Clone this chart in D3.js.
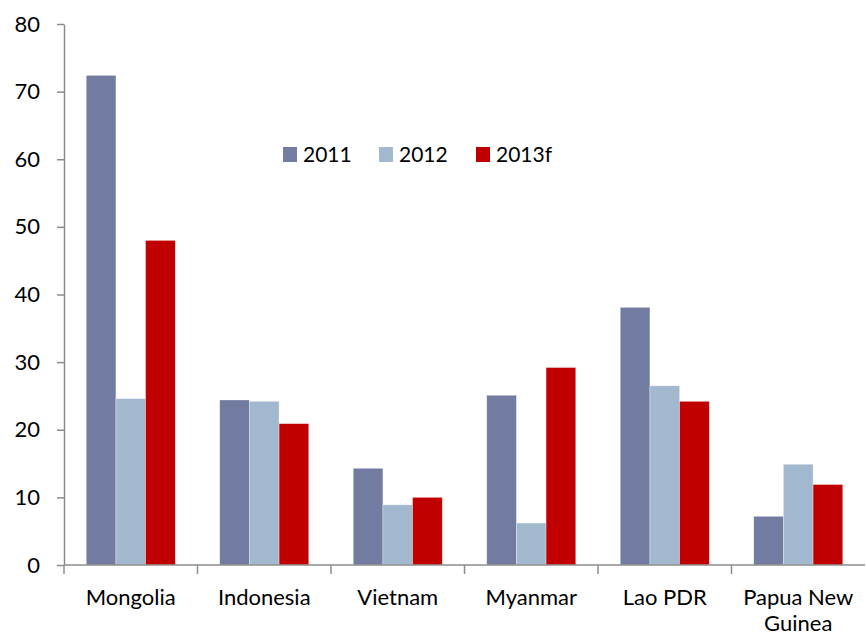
<!DOCTYPE html>
<html>
<head>
<meta charset="utf-8">
<script src="https://cdn.jsdelivr.net/npm/d3@7"></script>
<style>
  body { margin: 0; background: #fff; }
  svg text { font-family: Lato, "Open Sans", sans-serif; fill: #000; }
</style>
</head>
<body>
<div id="chart"></div>
<script>
// data
var countries = ["Mongolia", "Indonesia", "Vietnam", "Myanmar", "Lao PDR", "Papua New Guinea"];
var years = ["2011", "2012", "2013f"];
var v2011 = [72.4, 24.4, 14.3, 25.1, 38.1, 7.2];
var v2012 = [24.6, 24.2, 8.9, 6.2, 26.5, 14.9];
var v2013 = [48.0, 20.9, 10.0, 29.2, 24.2, 11.9];
var yTicks = [0, 10, 20, 30, 40, 50, 60, 70, 80];
var colours = ["#727ca1", "#a2b8cf", "#c00000"];

var series = [v2011, v2012, v2013];

// set the dimensions and margins of the graph
var margin = { top: 24, right: 1, bottom: 73, left: 64 },
  width = 866 - margin.left - margin.right,
  height = 638 - margin.top - margin.bottom;

var svg = d3.select("#chart").append("svg")
  .attr("width", 866)
  .attr("height", 638)
  .append("g")
  .attr("transform", `translate(${margin.left},${margin.top})`);

var x = d3.scaleBand().domain(countries).range([0, width]).paddingInner(0).paddingOuter(0);
var xInner = d3.scaleBand().domain(years).range([x.bandwidth() / 6, x.bandwidth() * 5 / 6]);
var y = d3.scaleLinear().domain([0, 80]).range([height, 0]);

// bars
years.forEach((yr, i) => {
  svg.append("g").selectAll("rect")
    .data(series[i])
    .join("rect")
    .attr("x", (d, j) => x(countries[j]) + xInner(yr))
    .attr("y", d => y(d))
    .attr("width", xInner.bandwidth())
    .attr("height", d => height - y(d))
    .attr("fill", colours[i])
    .attr("stroke", "rgba(255,255,255,0.5)")
    .attr("stroke-width", 0.6);
});

// y axis
var yAxis = svg.append("g")
  .call(d3.axisLeft(y).tickValues(yTicks).tickSize(7).tickSizeOuter(0).tickPadding(17));
yAxis.select(".domain").attr("stroke", "#8c8c8c").attr("stroke-width", 1.5);
yAxis.selectAll(".tick line").attr("stroke", "#8c8c8c").attr("stroke-width", 1.5);
yAxis.selectAll(".tick text").style("font-size", "22px");

// x axis with ticks at category boundaries
var xAxis = svg.append("g").attr("transform", `translate(0,${height})`);
xAxis.append("line")
  .attr("x1", 0).attr("x2", width)
  .attr("stroke", "#8c8c8c").attr("stroke-width", 1.5);
var bounds = countries.map(c => x(c));
xAxis.selectAll("line.tk")
  .data(bounds)
  .join("line")
  .attr("class", "tk")
  .attr("x1", d => d).attr("x2", d => d)
  .attr("y1", 0).attr("y2", 9)
  .attr("stroke", "#8c8c8c").attr("stroke-width", 1.5);

// category labels
countries.forEach(c => {
  var cx = x(c) + x.bandwidth() / 2;
  var t = xAxis.append("text")
    .attr("text-anchor", "middle")
    .attr("x", cx)
    .attr("y", 40)
    .style("font-size", "22px");
  if (c === "Papua New Guinea") {
    t.append("tspan").attr("x", cx).text("Papua New");
    t.append("tspan").attr("x", cx).attr("dy", 26).text("Guinea");
  } else {
    t.text(c);
  }
});

// legend
var legendX = [283 - margin.left, 379 - margin.left, 476 - margin.left];
var leg = svg.append("g").attr("transform", `translate(0,${147 - margin.top})`);
years.forEach((yr, i) => {
  leg.append("rect")
    .attr("x", legendX[i]).attr("y", 0)
    .attr("width", 14).attr("height", 15)
    .attr("fill", colours[i]);
  leg.append("text")
    .attr("x", legendX[i] + 20).attr("y", 15)
    .style("font-size", "21px")
    .text(yr);
});
</script>
</body>
</html>
